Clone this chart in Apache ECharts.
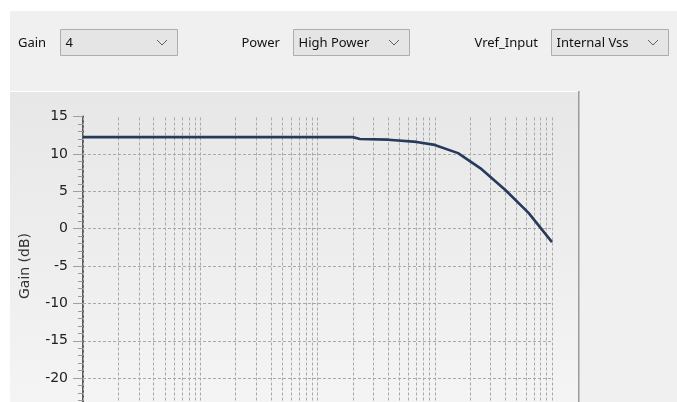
<!DOCTYPE html>
<html>
<head>
<meta charset="utf-8">
<script src="https://cdn.jsdelivr.net/npm/echarts@6/dist/echarts.min.js"></script>
<style>
html,body{margin:0;padding:0;background:#fff;}
#chart{width:677px;height:402px;}
</style>
</head>
<body>
<div id="chart"></div>
<script>
// ---- data ----
const freqHz = [10, 100, 1000, 2000, 2300, 4000, 7000, 10000, 15800, 25100, 39800, 63100, 100000];
const gainDb = [12.24, 12.24, 12.24, 12.24, 12.0, 11.9, 11.6, 11.2, 10.1, 7.95, 5.2, 2.1, -1.8];
const yTickValues = [-25, -20, -15, -10, -5, 0, 5, 10, 15];
const xDecades = [10, 100, 1000, 10000];
const xMultipliers = [1, 2, 3, 4, 5, 6, 7, 8, 9];
const xMax = 100000;
const controlLabels = ['Gain', 'Power', 'Vref_Input'];
const controlValues = ['4', 'High Power', 'Internal Vss'];
const yAxisName = 'Gain (dB)';

// ---- build ----
const gridValues = [];
xDecades.forEach(d => xMultipliers.forEach(m => gridValues.push(d * m)));
gridValues.push(xMax);

const uiFont = '13px "Noto Sans"';
const labelPos = [18, 241.5, 474.5];
const comboPos = [[60.5, 117], [293.5, 116], [551.5, 117]];

const graphics = [
  {type:'rect', z:-20, silent:true, shape:{x:10, y:11, width:667, height:391}, style:{fill:'#f0f0f0'}},
  {type:'rect', z:-19, silent:true, shape:{x:10, y:91, width:569, height:311},
   style:{fill:{type:'linear', x:0, y:0, x2:0, y2:1, colorStops:[{offset:0, color:'#e7e7e7'},{offset:1, color:'#f4f4f4'}]}}},
  {type:'line', z:-18, silent:true, shape:{x1:10, y1:91.5, x2:578, y2:91.5}, style:{stroke:'#ffffff', lineWidth:1}},
  {type:'line', z:-18, silent:true, shape:{x1:578.5, y1:91, x2:578.5, y2:402}, style:{stroke:'#9c9c9c', lineWidth:1}},
  {type:'line', z:-18, silent:true, shape:{x1:579.5, y1:91, x2:579.5, y2:402}, style:{stroke:'#c4c4c4', lineWidth:1}}
];
controlLabels.forEach((t, i) => {
  graphics.push({type:'text', z:10, x:labelPos[i], y:43, style:{text:t, font:uiFont, fill:'#111', verticalAlign:'middle', align:'left'}});
  const [cx, cw] = comboPos[i];
  graphics.push({type:'rect', z:10, shape:{x:cx, y:29.5, width:cw, height:26}, style:{fill:'#e5e5e5', stroke:'#adadad', lineWidth:1}});
  graphics.push({type:'text', z:11, x:cx + 5, y:43, style:{text:controlValues[i], font:uiFont, fill:'#111', verticalAlign:'middle', align:'left'}});
  const ax = cx + cw - 15.5;
  graphics.push({type:'polyline', z:11, shape:{points:[[ax - 5, 40], [ax, 45], [ax + 5, 40]]}, style:{stroke:'#606060', lineWidth:1, fill:null}});
});

const chart = echarts.init(document.getElementById('chart'), null, {renderer:'canvas'});
chart.setOption({
  animation:false,
  backgroundColor:'#ffffff',
  graphic: graphics,
  grid:{left:83, top:116.5, width:469, height:299, containLabel:false, outerBoundsMode:'none'},
  xAxis:{
    type:'log', logBase:10, min:freqHz[0], max:xMax,
    axisLine:{show:false}, axisTick:{show:false}, axisLabel:{show:false}, splitLine:{show:false}
  },
  yAxis:{
    type:'value', min:yTickValues[0], max:yTickValues[yTickValues.length - 1], interval:5,
    name:yAxisName, nameLocation:'middle', nameGap:51, nameRotate:90,
    nameTextStyle:{fontFamily:'DejaVu Sans', fontSize:14, color:'#333'},
    axisLine:{show:true, onZero:false, lineStyle:{color:'#5a5a5a', width:2}},
    axisTick:{show:true, length:10, lineStyle:{color:'#a0a0a0'}},
    minorTick:{show:true, splitNumber:5, length:5, lineStyle:{color:'#9a9a9a'}},
    axisLabel:{margin:15, fontFamily:'DejaVu Sans', fontSize:14, color:'#222'},
    splitLine:{show:true, showMaxLine:false, lineStyle:{type:[3,2], color:'#a9a9a9', width:1}}
  },
  series:[{
    type:'line',
    data: freqHz.map((f, i) => [f, gainDb[i]]),
    showSymbol:false, symbol:'none', smooth:false, z:3,
    lineStyle:{color:'#263a5c', width:2.6},
    markLine:{
      z:1, silent:true, symbol:['none','none'], label:{show:false},
      lineStyle:{type:[3,2], color:'#a9a9a9', width:1},
      emphasis:{disabled:true},
      data: gridValues.map(v => ({xAxis:v}))
    }
  }]
});
</script>
</body>
</html>
